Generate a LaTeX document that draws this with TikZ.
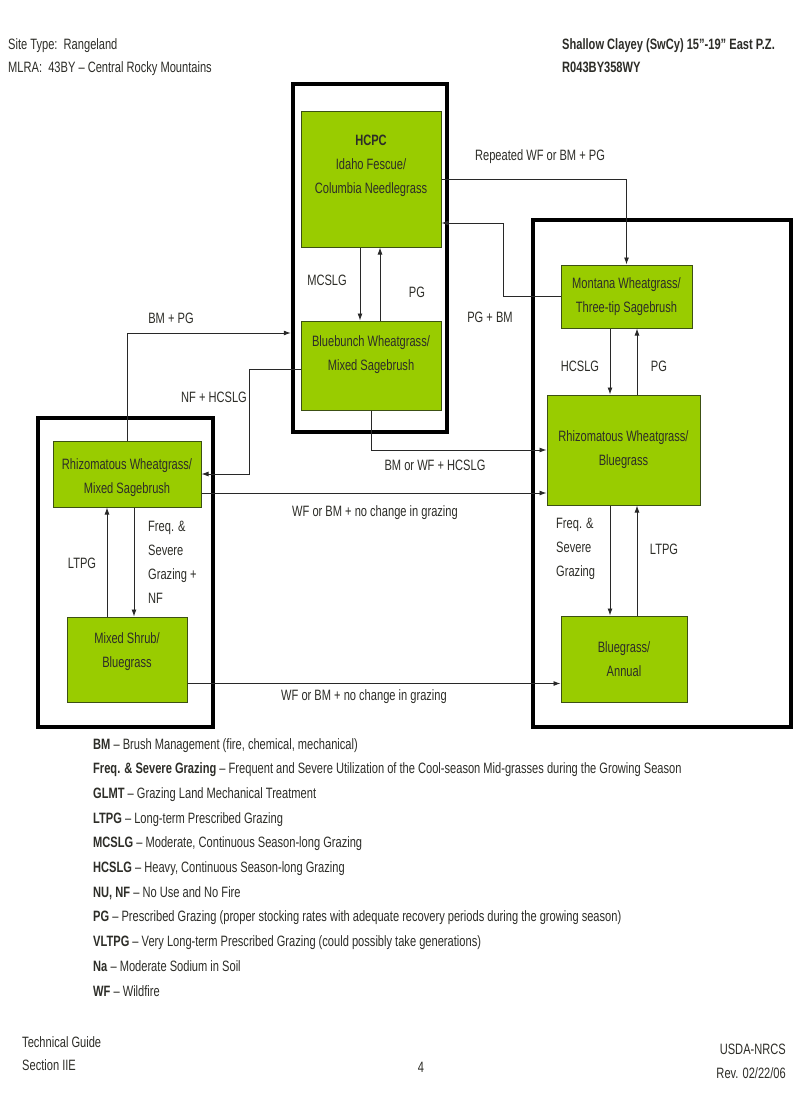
\documentclass[tikz,border=0pt]{standalone}
\usepackage{fontspec}
\setmainfont{Liberation Sans}[FakeStretch=0.74]
\usetikzlibrary{arrows.meta,calc}
\definecolor{grn}{RGB}{153,204,0}
\definecolor{grnline}{RGB}{60,80,20}
\definecolor{txt}{RGB}{45,45,40}
\definecolor{lne}{RGB}{40,40,40}
\tikzset{
  statebox/.style={draw=grnline, line width=1pt, fill=grn, text=txt, align=center, inner sep=0pt, font=\fontsize{15}{24}\selectfont},
  contbox/.style={draw=black, line width=4.5pt, fill=none, inner sep=0pt},
  arr/.style={draw=lne, line width=0.9pt, -{Latex[length=7pt,width=5pt]}},
  lbl/.style={text=txt, font=\fontsize{15}{24}\selectfont, inner sep=0pt, align=center},
  lbll/.style={text=txt, font=\fontsize{15}{24}\selectfont, inner sep=0pt, align=left},
  hdr/.style={text=txt, font=\fontsize{15}{23.5}\selectfont, inner sep=0pt, align=left, anchor=north west}
}
\begin{document}
\begin{tikzpicture}[x=1pt,y=-1pt]
\useasboundingbox (0,0) rectangle (800,1108);
\fill[white] (0,0) rectangle (800,1108);

% header
\node[hdr] (h1) at (8,38) {Site Type:\ \ Rangeland\\MLRA:\ \ 43BY – Central Rocky Mountains};
\node[hdr, font=\fontsize{15}{23.5}\selectfont\bfseries] (h2) at (562,38) {Shallow Clayey (SwCy) 15”-19” East P.Z.\\R043BY358WY};

% containers
\node[contbox, minimum width=154pt, minimum height=348pt] (c1) at (370,258) {};
\node[contbox, minimum width=175pt, minimum height=309pt] (c2) at (125.5,572.5) {};
\node[contbox, minimum width=258pt, minimum height=507pt] (c3) at (662,473.5) {};

% states
\node[statebox, minimum width=140pt, minimum height=136pt, text depth=29pt] (hcpc) at (371,179) {\textbf{HCPC}\\Idaho Fescue/\\Columbia Needlegrass};
\node[statebox, minimum width=140pt, minimum height=89pt, text depth=25pt] (bb) at (371,365.5) {Bluebunch Wheatgrass/\\Mixed Sagebrush};
\node[statebox, minimum width=131pt, minimum height=63pt] (mont) at (626.5,296.5) {Montana Wheatgrass/\\Three-tip Sagebrush};
\node[statebox, minimum width=153pt, minimum height=110pt] (rb) at (623.5,450) {Rhizomatous Wheatgrass/\\Bluegrass};
\node[statebox, minimum width=126pt, minimum height=86pt] (ba) at (624,659) {Bluegrass/\\Annual};
\node[statebox, minimum width=148pt, minimum height=66pt, text height=43pt] (rm) at (127,474) {Rhizomatous Wheatgrass/\\Mixed Sagebrush};
\node[statebox, minimum width=120pt, minimum height=85pt, text depth=18pt] (ms) at (127,659.5) {Mixed Shrub/\\Bluegrass};

% HCPC <-> Bluebunch
\draw[arr] ([xshift=-11pt]hcpc.south) -- ([xshift=-11pt]bb.north);
\draw[arr] ([xshift=9pt]bb.north) -- ([xshift=9pt]hcpc.south);
\node[lbl] (l1) at (327,280) {MCSLG};
\node[lbl] (l2) at (417,292) {PG};

% HCPC -> Montana
\draw[arr] (hcpc.east) -| (mont.north);
\node[lbl] (l3) at (540,157) {Repeated WF or BM + PG};
% Montana -> HCPC
\draw[arr] (mont.west) -- ++(-57,0) |- ([yshift=-44pt]hcpc.east);
\node[lbl] (l4) at (490,317) {PG + BM};

% Montana <-> Rhiz/Bluegrass
\draw[arr] ([xshift=-16.5pt]mont.south) -- ([xshift=-16.5pt]mont.south |- rb.north);
\draw[arr] ([xshift=10.5pt]mont.south |- rb.north) -- ([xshift=10.5pt]mont.south);
\node[lbl] (l5) at (580,366) {HCSLG};
\node[lbl] (l6) at (659,366) {PG};

% Rhiz/Bluegrass <-> Bluegrass/Annual
\draw[arr] ([xshift=-13.5pt]rb.south) -- ([xshift=-13.5pt]rb.south |- ba.north);
\draw[arr] ([xshift=13.5pt]rb.south |- ba.north) -- ([xshift=13.5pt]rb.south);
\node[lbll, anchor=north west] (l7) at (556,518) {Freq. \&\\Severe\\Grazing};
\node[lbl] (l8) at (664,549) {LTPG};

% Rhiz/Mixed -> Bluebunch container
\draw[arr] (rm.north) |- ([yshift=-75pt]c1.west);
\node[lbl] (l9) at (171,318) {BM + PG};
% Bluebunch -> Rhiz/Mixed
\draw[arr] ([yshift=-4pt]bb.west) -- ++(-51,0) |- (rm.east);
\node[lbl] (l10) at (214,397) {NF + HCSLG};
% Bluebunch -> Rhiz/Bluegrass
\draw[arr] (bb.south) |- (rb.west);
\node[lbl] (l11) at (435,465) {BM or WF + HCSLG};
% Rhiz/Mixed -> Rhiz/Bluegrass
\draw[arr] ([yshift=-19pt]rm.east) -- ([yshift=-19pt]rm.east -| rb.west);
\node[lbl] (l12) at (375,513) {WF or BM + no change in grazing};

% Rhiz/Mixed <-> Mixed Shrub
\draw[arr] ([xshift=-20pt]ms.north) -- ([xshift=-20pt]rm.south);
\draw[arr] ([xshift=7pt]rm.south) -- ([xshift=7pt]ms.north);
\node[lbl] (l13) at (82,563) {LTPG};
\node[lbll, anchor=north west] (l14) at (148,521) {Freq. \&\\Severe\\Grazing +\\NF};

% Mixed Shrub -> Bluegrass/Annual
\draw[arr] ([yshift=-24pt]ms.east) -- ([yshift=-24pt]ms.east -| ba.west);
\node[lbl] (l15) at (364,697) {WF or BM + no change in grazing};

% legend
\node[lbll, anchor=north west, font=\fontsize{15}{24.7}\selectfont] (leg) at (93,738) {%
\textbf{BM} – Brush Management (fire, chemical, mechanical)\\
\textbf{Freq. \& Severe Grazing} – Frequent and Severe Utilization of the Cool-season Mid-grasses during the Growing Season\\
\textbf{GLMT} – Grazing Land Mechanical Treatment\\
\textbf{LTPG} – Long-term Prescribed Grazing\\
\textbf{MCSLG} – Moderate, Continuous Season-long Grazing\\
\textbf{HCSLG} – Heavy, Continuous Season-long Grazing\\
\textbf{NU, NF} – No Use and No Fire\\
\textbf{PG} – Prescribed Grazing (proper stocking rates with adequate recovery periods during the growing season)\\
\textbf{VLTPG} – Very Long-term Prescribed Grazing (could possibly take generations)\\
\textbf{Na} – Moderate Sodium in Soil\\
\textbf{WF} – Wildfire};

% footer
\node[hdr] (f1) at (22,1036) {Technical Guide\\Section IIE};
\node[lbl] (f2) at (421,1067) {4};
\node[hdr, align=right, anchor=north east] (f3) at (786,1044) {USDA-NRCS\\Rev. 02/22/06};
\end{tikzpicture}
\end{document}
